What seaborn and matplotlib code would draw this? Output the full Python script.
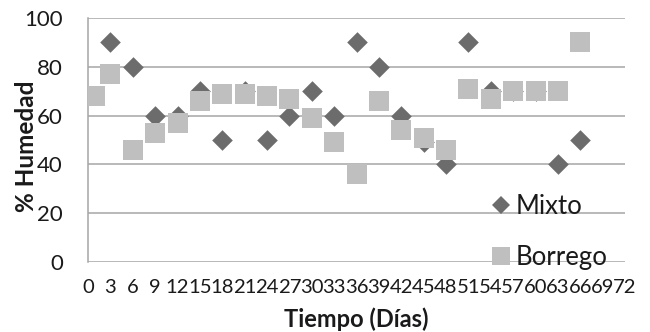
import numpy as np
import pandas as pd
import matplotlib
matplotlib.use("Agg")
import matplotlib.pyplot as plt
from matplotlib.lines import Line2D
import seaborn as sns

# ---- data ----
dias = [1, 3, 6, 9, 12, 15, 18, 21, 24, 27, 30, 33, 36, 39, 42, 45, 48, 51, 54, 57, 60, 63, 66]
mixto = [np.nan, 90, 80, 60, 60, 70, 50, 70, 50, 60, 70, 60, 90, 80, 60, 49, 40, 90, 70, 70, 70, 40, 50]
borrego = [68, 77, 46, 53, 57, 66, 69, 69, 68, 67, 59, 49, 36, 66, 54, 51, 46, 71, 67, 70, 70, 70, 90]
x_ticks = list(range(0, 73, 3))
y_ticks = [0, 20, 40, 60, 80, 100]

sns.set_theme(style="white")
plt.rcParams['font.family'] = ['Lato', 'DejaVu Sans']

df_m = pd.DataFrame({"Tiempo": dias, "Humedad": mixto})
df_b = pd.DataFrame({"Tiempo": dias, "Humedad": borrego})

col_m = "#6c6c6c"
col_b = "#bfbfbf"
grid_c = "#a6a6a6"
txt_c = "#1a1a1a"

fig = plt.figure(figsize=(6.5, 3.32), dpi=100)
ax = fig.add_axes([88/650, (332-262)/332, (625-88)/650, (262-18)/332])

sns.scatterplot(data=df_m, x="Tiempo", y="Humedad", marker="D", s=110,
                color=col_m, linewidth=0, ax=ax, zorder=3)
sns.scatterplot(data=df_b, x="Tiempo", y="Humedad", marker="s", s=207,
                color=col_b, linewidth=0, ax=ax, zorder=4)

ax.set_xlim(0, 72)
ax.set_ylim(0, 100)
ax.set_yticks(y_ticks)
ax.set_yticklabels([str(v) for v in y_ticks], fontsize=16, color=txt_c)
ax.set_xticks(x_ticks)
ax.set_xticklabels([str(v) for v in x_ticks], fontsize=14.6, color=txt_c)
ax.tick_params(axis="both", length=0)
ax.tick_params(axis="y", pad=18)
ax.tick_params(axis="x", pad=12)

ax.grid(axis="y", color=grid_c, linewidth=1.1)
ax.set_axisbelow(True)
for s in ["top", "right", "bottom"]:
    ax.spines[s].set_visible(False)
ax.spines["left"].set_color(grid_c)
ax.spines["left"].set_linewidth(1.1)

ax.set_xlabel("Tiempo (Días)", fontsize=17, fontweight="bold", color=txt_c)
ax.xaxis.label.set_va("center")
ax.xaxis.set_label_coords(0.5, (262-319)/244)
ax.set_ylabel("% Humedad", fontsize=17.5, fontweight="bold", color=txt_c)
ax.yaxis.label.set_va("center")
ax.yaxis.set_label_coords((26-88)/537, (262-146)/244)

handles = [
    Line2D([], [], marker="D", color=col_m, linestyle="none", markersize=9.5, markeredgewidth=0),
    Line2D([], [], marker="s", color=col_b, linestyle="none", markersize=12.5, markeredgewidth=0),
]
leg = ax.legend(handles, ["Mixto", "Borrego"], loc="lower left",
                bbox_to_anchor=(0.755, -0.033), frameon=False, fontsize=18.5,
                handlelength=0.6, handletextpad=0.25, labelspacing=1.0,
                borderaxespad=0, borderpad=0)
for t in leg.get_texts():
    t.set_color(txt_c)

fig.savefig("out.png", dpi=100)
